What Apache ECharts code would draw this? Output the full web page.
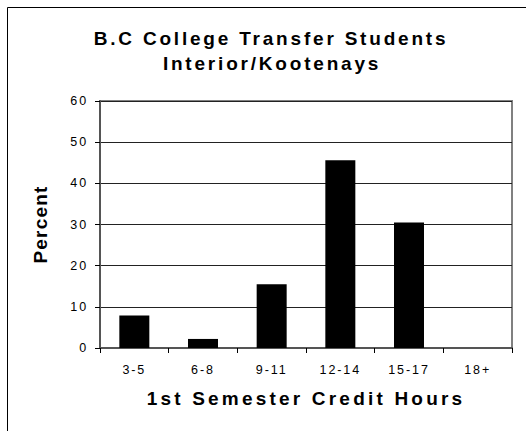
<!DOCTYPE html>
<html>
<head>
<meta charset="utf-8">
<script src="https://cdn.jsdelivr.net/npm/echarts@6/dist/echarts.min.js"></script>
<style>html,body{margin:0;padding:0;background:#fff}#c{width:526px;height:431px}</style>
</head>
<body>
<div id="c"></div>
<script>
const categories = ['3-5', '6-8', '9-11', '12-14', '15-17', '18+'];
const percentValues = [7.9, 2.2, 15.5, 45.6, 30.5, 0];
const yTicks = [0, 10, 20, 30, 40, 50, 60];
const titleLines = ['B.C College Transfer Students', 'Interior/Kootenays'];
const xAxisTitle = '1st Semester Credit Hours';
const yAxisTitle = 'Percent';

const FONT = 'Liberation Sans, Arial, sans-serif';
const bigText = {fontFamily: FONT, fontWeight: 'bold', fontSize: 19, color: '#000'};

const chart = echarts.init(document.getElementById('c'), null, {renderer: 'svg'});
chart.setOption({
  animation: false,
  backgroundColor: '#fff',
  graphic: [{
    type: 'rect', shape: {x: 7.5, y: 7.5, width: 600, height: 600},
    style: {fill: 'none', stroke: '#000', lineWidth: 1}, z: -1
  }],
  title: [
    {text: titleLines[0], left: 271, top: 29, textAlign: 'center', padding: 0, textStyle: bigText},
    {text: titleLines[1], left: 272, top: 54, textAlign: 'center', padding: 0, textStyle: bigText}
  ],
  grid: {left: 100, right: 14, top: 101, bottom: 83, show: true, borderColor: '#808080', borderWidth: 2},
  xAxis: {
    type: 'category', data: categories, boundaryGap: true,
    name: xAxisTitle, nameLocation: 'middle', nameGap: 41,
    nameTextStyle: bigText,
    axisLine: {lineStyle: {color: '#555', width: 2}},
    axisTick: {show: true, length: 5, lineStyle: {color: '#000'}},
    axisLabel: {fontFamily: FONT, fontSize: 12.5, color: '#000', margin: 15}
  },
  yAxis: {
    type: 'value', min: 0, max: 60, interval: 10,
    name: yAxisTitle, nameLocation: 'middle', nameGap: 50,
    nameTextStyle: bigText,
    axisLine: {show: true, lineStyle: {color: '#555', width: 2}},
    axisTick: {show: true, length: 5, lineStyle: {color: '#000'}},
    axisLabel: {fontFamily: FONT, fontSize: 12.5, color: '#000', margin: 12,
      formatter: v => yTicks.includes(v) ? String(v) : ''},
    splitLine: {show: true, lineStyle: {color: '#222', width: 1}}
  },
  series: [{
    type: 'bar', data: percentValues, barWidth: 30,
    itemStyle: {color: '#000'}
  }]
});

function applySpacing() {
  document.querySelectorAll('#c svg text').forEach(t => {
    const s = t.textContent;
    let sp = 1.9;
    if (s === titleLines[0] || s === titleLines[1]) sp = 2.8;
    else if (s === xAxisTitle) sp = 3.2;
    else if (s === yAxisTitle) sp = 1.2;
    t.setAttribute('letter-spacing', sp + 'px');
    t.style.letterSpacing = sp + 'px';
  });
}
chart.on('finished', applySpacing);
applySpacing();
setTimeout(applySpacing, 0);
setTimeout(applySpacing, 50);
</script>
</body>
</html>
